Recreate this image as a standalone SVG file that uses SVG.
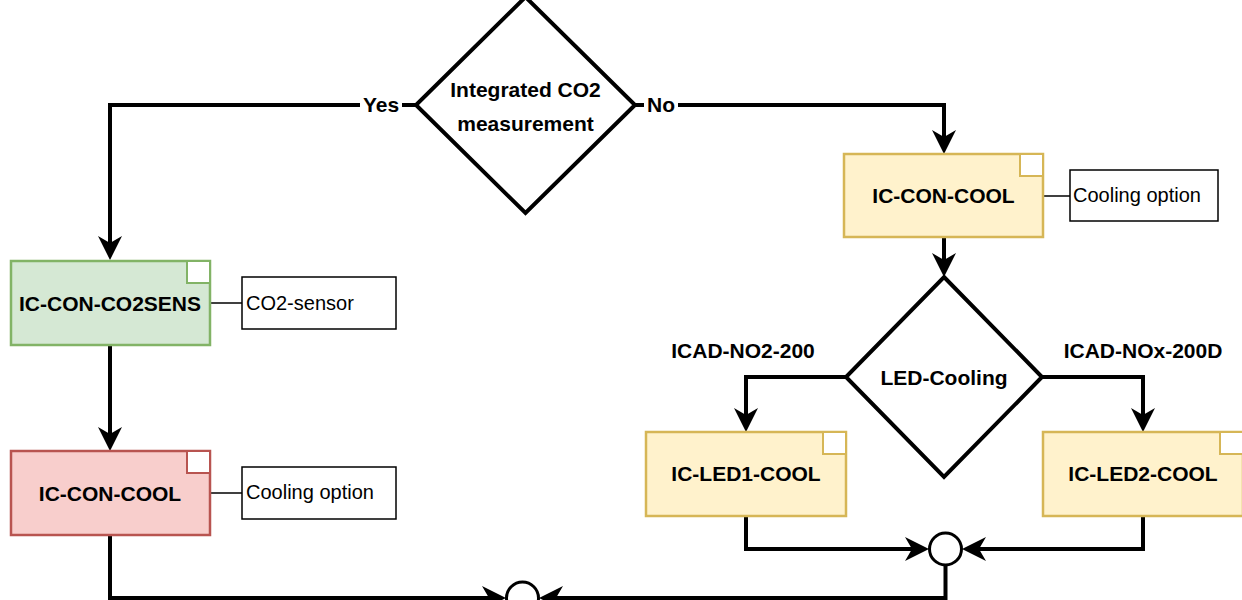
<svg xmlns="http://www.w3.org/2000/svg" width="1242" height="600" viewBox="0 0 1242 600">
  <style>
    .node { stroke-width: 2.5; }
    .corner { fill: #ffffff; stroke-width: 2; }
    .bold { font-family: "Liberation Sans", Arial, sans-serif; font-weight: bold; font-size: 21px; fill: #000; text-anchor: middle; }
    .note { font-family: "Liberation Sans", Arial, sans-serif; font-size: 20px; fill: #000; }
    .noteBox { fill: #ffffff; stroke: #000; stroke-width: 1.5; }
    .thin { fill: none; stroke: #000; stroke-width: 1.5; }
    .flow { fill: none; stroke: #000; stroke-width: 4; }
    .diamond { fill: #ffffff; stroke: #000; stroke-width: 4; stroke-linejoin: miter; }
    .junction { fill: #ffffff; stroke: #000; stroke-width: 3; }
    .lblbg { fill: #ffffff; }
  </style>
  <defs>
    <marker id="arrow" markerUnits="userSpaceOnUse" markerWidth="26" markerHeight="26" refX="14" refY="12" orient="auto">
      <path d="M0,0 L24,12 L0,24 L7,12 Z" fill="#000"/>
    </marker>
  </defs>

  <g id="connectors">
    <path class="flow" d="M416,105 H110 V250" marker-end="url(#arrow)"/>
    <path class="flow" d="M635,105 H944 V144" marker-end="url(#arrow)"/>
    <path class="flow" d="M110,345 V441" marker-end="url(#arrow)"/>
    <path class="flow" d="M110,535 V598 H496" marker-end="url(#arrow)"/>
    <path class="flow" d="M944,237 V267" marker-end="url(#arrow)"/>
    <path class="flow" d="M846,377 H746 V422" marker-end="url(#arrow)"/>
    <path class="flow" d="M1042,377 H1143 V422" marker-end="url(#arrow)"/>
    <path class="flow" d="M746,516 V549 H919" marker-end="url(#arrow)"/>
    <path class="flow" d="M1143,516 V549 H972" marker-end="url(#arrow)"/>
    <path class="flow" d="M945.5,565 V598 H549" marker-end="url(#arrow)"/>
    <path class="thin" d="M210,303 H242"/>
    <path class="thin" d="M210,493 H242"/>
    <path class="thin" d="M1043,196 H1070"/>
    <rect class="lblbg" x="360" y="93" width="42" height="24"/>
    <text class="bold" x="381" y="112">Yes</text>
    <rect class="lblbg" x="644" y="93" width="34" height="24"/>
    <text class="bold" x="661" y="112">No</text>
    <rect class="lblbg" x="668" y="338" width="150" height="26"/>
    <text class="bold" x="743" y="358">ICAD-NO2-200</text>
    <rect class="lblbg" x="1062" y="338" width="162" height="26"/>
    <text class="bold" x="1143" y="358">ICAD-NOx-200D</text>
  </g>

  <g id="decision-co2">
    <polygon class="diamond" points="525.5,-3 635,105 525.5,213 416,105"/>
    <text class="bold" x="525.5" y="97">Integrated CO2</text>
    <text class="bold" x="525.5" y="131">measurement</text>
  </g>

  <g id="node-co2sens">
    <rect class="node" x="11" y="261" width="199" height="84" fill="#d5e8d4" stroke="#82b366"/>
    <rect class="corner" x="187" y="261" width="23" height="22" stroke="#82b366"/>
    <text class="bold" x="110" y="311">IC-CON-CO2SENS</text>
  </g>
  <g id="note-co2sensor">
    <rect class="noteBox" x="242" y="277" width="154" height="52"/>
    <text class="note" x="246" y="310">CO2-sensor</text>
  </g>

  <g id="node-con-cool-red">
    <rect class="node" x="11" y="451" width="199" height="84" fill="#f8cecc" stroke="#b85450"/>
    <rect class="corner" x="187" y="451" width="23" height="22" stroke="#b85450"/>
    <text class="bold" x="110" y="501">IC-CON-COOL</text>
  </g>
  <g id="note-cooling-left">
    <rect class="noteBox" x="242" y="467" width="154" height="52"/>
    <text class="note" x="246" y="499">Cooling option</text>
  </g>

  <g id="node-con-cool-yellow">
    <rect class="node" x="844" y="154" width="199" height="83" fill="#fff2cc" stroke="#d6b656"/>
    <rect class="corner" x="1020" y="154" width="23" height="22" stroke="#d6b656"/>
    <text class="bold" x="943.5" y="203">IC-CON-COOL</text>
  </g>
  <g id="note-cooling-right">
    <rect class="noteBox" x="1070" y="170" width="148" height="51"/>
    <text class="note" x="1073" y="202">Cooling option</text>
  </g>

  <g id="decision-led">
    <polygon class="diamond" points="944,277 1042,377 944,477 846,377"/>
    <text class="bold" x="944" y="385">LED-Cooling</text>
  </g>

  <g id="node-led1">
    <rect class="node" x="646" y="432" width="200" height="84" fill="#fff2cc" stroke="#d6b656"/>
    <rect class="corner" x="823" y="432" width="23" height="22" stroke="#d6b656"/>
    <text class="bold" x="746" y="481">IC-LED1-COOL</text>
  </g>

  <g id="node-led2">
    <rect class="node" x="1043" y="432" width="200" height="84" fill="#fff2cc" stroke="#d6b656"/>
    <rect class="corner" x="1220" y="432" width="23" height="22" stroke="#d6b656"/>
    <text class="bold" x="1143" y="481">IC-LED2-COOL</text>
  </g>

  <g id="junction-right">
    <circle class="junction" cx="945.5" cy="549" r="16"/>
  </g>
  <g id="junction-bottom">
    <circle class="junction" cx="522.5" cy="598" r="16"/>
  </g>
</svg>
